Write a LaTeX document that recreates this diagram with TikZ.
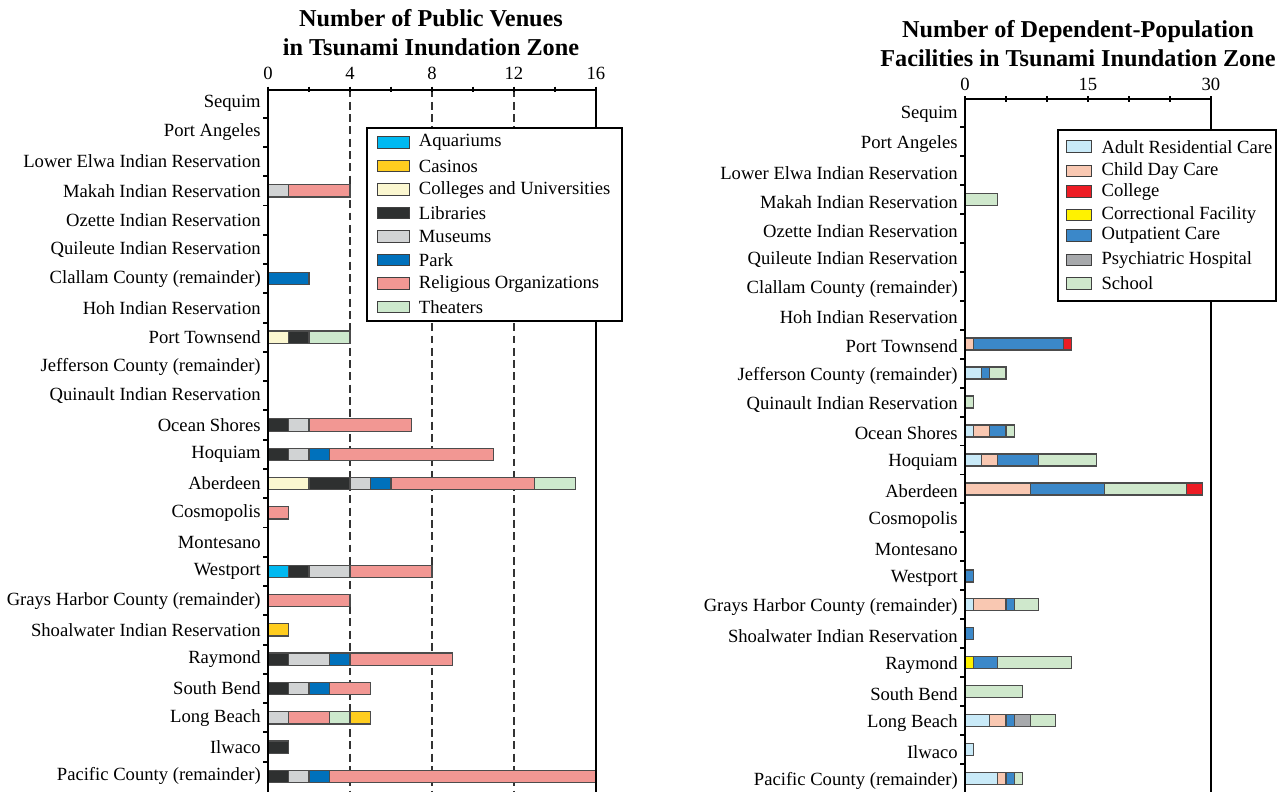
\documentclass[tikz,border=0pt]{standalone}
\usepackage{fontspec}
\setmainfont{Liberation Serif}
\usetikzlibrary{positioning}

% venue colours
\definecolor{aquarium}{HTML}{00B9F1}
\definecolor{casino}{HTML}{FFCD1F}
\definecolor{college}{HTML}{FBF7D0}
\definecolor{library}{HTML}{2E3030}
\definecolor{museum}{HTML}{D1D3D4}
\definecolor{park}{HTML}{0071BC}
\definecolor{relig}{HTML}{F29793}
\definecolor{theater}{HTML}{CDE9CD}
% facility colours
\definecolor{adultcare}{HTML}{C9EAF8}
\definecolor{daycare}{HTML}{F9C8B2}
\definecolor{collegered}{HTML}{ED1C24}
\definecolor{correct}{HTML}{FFF200}
\definecolor{outpat}{HTML}{3B88C9}
\definecolor{psych}{HTML}{A7A9AC}
\definecolor{school}{HTML}{CFE8CC}

\begin{document}
\begin{tikzpicture}[x=0.02cm, y=-0.02cm]
% -------------------------------------------------
\tikzset{
  rowlabel/.style={anchor=east, inner sep=0pt, font=\fontsize{10.6}{12}\selectfont},
  ticklabel/.style={anchor=south, inner sep=0pt, font=\fontsize{10.6}{12}\selectfont},
  charttitle/.style={align=center, inner sep=0pt, font=\fontsize{13.8}{16.4}\selectfont\bfseries},
  axisline/.style={draw, line width=1.1pt},
  guide/.style={draw=black!80, line width=0.8pt, dash pattern=on 4.5pt off 2.5pt},
  seg/.style={draw=black!70, line width=0.7pt},
  keyframe/.style={draw, line width=1.1pt, fill=white},
  swatch/.style={draw=black!75, line width=0.6pt, minimum height=0.23cm, inner sep=0pt},
  keytext/.style={anchor=west, inner sep=0pt, font=\fontsize{10.6}{12}\selectfont}
}
\useasboundingbox (0,0) rectangle (1286,792);

% -------------------------------------------------
% Titles
\node[charttitle] (vtitle) at (431,33) {Number of Public Venues\\in Tsunami Inundation Zone};
\node[charttitle] (ftitle) at (1078,43.5) {Number of Dependent-Population\\Facilities in Tsunami Inundation Zone};

% -------------------------------------------------
% Public venues
\begin{scope}[shift={(268,103)}, x=0.41cm, y=-0.5856cm]
  \foreach \v in {4,8,12}
    \draw[guide] (\v,-0.46) -- (\v,23.53);
  \foreach \name [count=\i from 0] in {Sequim, Port Angeles, Lower Elwa Indian Reservation,
      Makah Indian Reservation, Ozette Indian Reservation, Quileute Indian Reservation,
      Clallam County (remainder), Hoh Indian Reservation, Port Townsend,
      Jefferson County (remainder), Quinault Indian Reservation, Ocean Shores,
      Hoquiam, Aberdeen, Cosmopolis, Montesano, Westport,
      Grays Harbor County (remainder), Shoalwater Indian Reservation, Raymond,
      South Bend, Long Beach, Ilwaco, Pacific County (remainder)}
    \node[rowlabel] (vrow\i) at (-0.34,\i) {\name};
  \foreach \r/\a/\b/\c in {
      3/0/1/museum, 3/1/4/relig,
      6/0/2/park,
      8/0/1/college, 8/1/2/library, 8/2/4/theater,
      11/0/1/library, 11/1/2/museum, 11/2/7/relig,
      12/0/1/library, 12/1/2/museum, 12/2/3/park, 12/3/11/relig,
      13/0/2/college, 13/2/4/library, 13/4/5/museum, 13/5/6/park, 13/6/13/relig, 13/13/15/theater,
      14/0/1/relig,
      16/0/1/aquarium, 16/1/2/library, 16/2/4/museum, 16/4/8/relig,
      17/0/4/relig,
      18/0/1/casino,
      19/0/1/library, 19/1/3/museum, 19/3/4/park, 19/4/9/relig,
      20/0/1/library, 20/1/2/museum, 20/2/3/park, 20/3/5/relig,
      21/0/1/museum, 21/1/3/relig, 21/3/4/theater, 21/4/5/casino,
      22/0/1/library,
      23/0/1/library, 23/1/2/museum, 23/2/3/park, 23/3/16/relig}
    \draw[seg, fill=\c] (\a,\r-0.21) rectangle (\b,\r+0.21);
  \draw[axisline] (0,23.53) -- (0,-0.46) -- (16,-0.46) -- (16,23.53);
  \foreach \v in {0,2,...,16}
    \draw[axisline] (\v,-0.56) -- (\v,-0.36);
  \foreach \v in {0,4,8,12,16}
    \node[ticklabel, yshift=5.4pt] at (\v,-0.46) {\v};
  \foreach \i in {0,...,22}
    \draw[axisline] (0,\i+0.5) -- (-0.25,\i+0.5);
\end{scope}

% legend of venues
\draw[keyframe] (367,128) rectangle (622,321);
\foreach \c/\t [count=\k from 0] in {aquarium/Aquariums, casino/Casinos,
    college/Colleges and Universities, library/Libraries, museum/Museums,
    park/Park, relig/Religious Organizations, theater/Theaters}
{
  \node[swatch, minimum width=0.634cm, fill=\c] (vkey\k) at (393.2,{142.7+23.5*\k}) {};
  \node[keytext, right=0.18cm of vkey\k] {\t};
}

% -------------------------------------------------
% Dependent-population facilities
\begin{scope}[shift={(965,112.3)}, x=0.164cm, y=-0.5796cm]
  \foreach \name [count=\i from 0] in {Sequim, Port Angeles, Lower Elwa Indian Reservation,
      Makah Indian Reservation, Ozette Indian Reservation, Quileute Indian Reservation,
      Clallam County (remainder), Hoh Indian Reservation, Port Townsend,
      Jefferson County (remainder), Quinault Indian Reservation, Ocean Shores,
      Hoquiam, Aberdeen, Cosmopolis, Montesano, Westport,
      Grays Harbor County (remainder), Shoalwater Indian Reservation, Raymond,
      South Bend, Long Beach, Ilwaco, Pacific County (remainder)}
    \node[rowlabel, yshift=-1.4pt] (frow\i) at (-0.85,\i) {\name};
  \foreach \r/\a/\b/\c in {
      3/0/4/school,
      8/0/1/daycare, 8/1/12/outpat, 8/12/13/collegered,
      9/0/2/adultcare, 9/2/3/outpat, 9/3/5/school,
      10/0/1/school,
      11/0/1/adultcare, 11/1/3/daycare, 11/3/5/outpat, 11/5/6/school,
      12/0/2/adultcare, 12/2/4/daycare, 12/4/9/outpat, 12/9/16/school,
      13/0/8/daycare, 13/8/17/outpat, 13/17/27/school, 13/27/29/collegered,
      16/0/1/outpat,
      17/0/1/adultcare, 17/1/5/daycare, 17/5/6/outpat, 17/6/9/school,
      18/0/1/outpat,
      19/0/1/correct, 19/1/4/outpat, 19/4/13/school,
      20/0/7/school,
      21/0/3/adultcare, 21/3/5/daycare, 21/5/6/outpat, 21/6/8/psych, 21/8/11/school,
      22/0/1/adultcare,
      23/0/4/adultcare, 23/4/5/daycare, 23/5/6/outpat, 23/6/7/school}
    \draw[seg, fill=\c] (\a,\r-0.207) rectangle (\b,\r+0.207);
  \draw[axisline] (0,23.45) -- (0,-0.449) -- (30,-0.449) -- (30,23.45);
  \foreach \v in {0,5,...,30}
    \draw[axisline] (\v,-0.553) -- (\v,-0.345);
  \foreach \v in {0,15,30}
    \node[ticklabel, yshift=4.6pt] at (\v,-0.449) {\v};
  \foreach \i in {0,...,22}
    \draw[axisline] (0,\i+0.5) -- (-0.61,\i+0.5);
\end{scope}

% legend of facilities
\draw[keyframe] (1058,130) rectangle (1276,301);
\foreach \c/\t/\yy [count=\k from 0] in {adultcare/Adult Residential Care/146.7,
    daycare/Child Day Care/171, collegered/College/191.7,
    correct/Correctional Facility/215, outpat/Outpatient Care/235.7,
    psych/Psychiatric Hospital/260, school/School/283.3}
{
  \node[swatch, minimum width=0.5cm, fill=\c] (fkey\k) at (1079.2,\yy) {};
  \node[keytext, right=0.18cm of fkey\k] {\t};
}

\end{tikzpicture}
\end{document}
